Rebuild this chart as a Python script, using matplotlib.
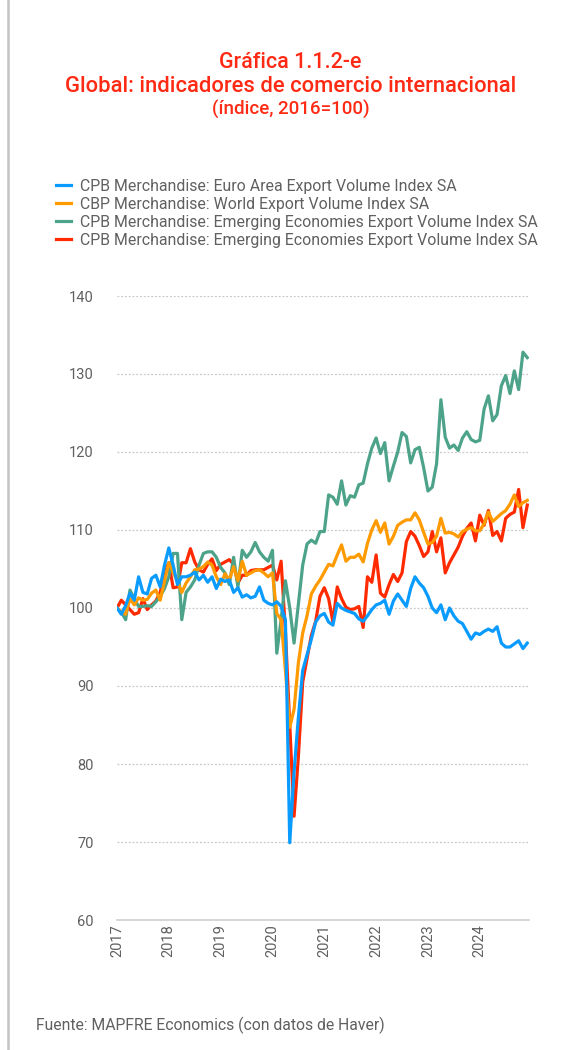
import numpy as np
import matplotlib
matplotlib.use("Agg")
import matplotlib.pyplot as plt
from matplotlib.lines import Line2D

plt.rcParams['font.family'] = ['Roboto', 'DejaVu Sans']

# Monthly data, Jan 2017 - Dec 2024 (index, 2016=100)
years = ['2017', '2018', '2019', '2020', '2021', '2022', '2023', '2024']

euro_area = [100.0, 99.2, 100.3, 101.9, 101.0, 104.0, 102.0, 101.8, 103.8, 104.2, 102.7, 105.5,
             107.7, 105.5, 103.0, 104.0, 104.0, 104.2, 104.6, 103.6, 104.2, 103.3, 104.0, 102.5,
             103.7, 103.4, 103.6, 102.0, 102.6, 101.4, 101.7, 101.3, 101.5, 102.7, 101.0, 100.6,
             100.4, 100.8, 100.2, 98.5, 69.9, 79.0, 86.0, 92.0, 94.0, 96.0, 98.2, 99.0,
             99.3, 98.2, 97.8, 100.6, 100.0, 99.7, 99.5, 99.3, 98.6, 98.3, 99.0, 99.8,
             100.4, 100.6, 101.0, 99.2, 100.9, 101.8, 101.0, 100.2, 102.5, 104.0, 103.2, 102.6,
             101.5, 100.0, 99.4, 100.4, 98.5, 100.0, 99.0, 98.3, 98.0, 97.0, 96.0, 96.8,
             96.6, 97.0, 97.3, 97.0, 97.6, 95.5, 95.0, 95.0, 95.4, 95.8, 94.8, 95.5]

world = [100.0, 99.5, 99.2, 101.2, 100.4, 101.3, 101.0, 101.1, 101.9, 102.3, 101.0, 103.5,
         105.8, 104.6, 103.4, 102.0, 103.2, 104.0, 104.9, 105.0, 105.3, 105.9, 105.5, 104.0,
         103.0, 104.4, 103.6, 105.3, 103.5, 106.0, 104.2, 104.5, 104.8, 104.9, 104.5, 104.0,
         104.5, 99.3, 98.5, 92.0, 84.7, 87.0, 93.0, 96.8, 99.0, 101.8, 102.8, 103.6,
         104.6, 105.6, 105.4, 106.8, 108.1, 106.0, 106.5, 106.5, 106.9, 105.9, 108.3, 110.0,
         111.2, 109.7, 110.9, 108.2, 109.2, 110.6, 111.0, 111.3, 111.3, 112.2, 111.3, 109.7,
         108.2, 108.4, 109.2, 111.5, 109.6, 109.7, 109.5, 109.1, 109.8, 110.1, 110.3, 109.9,
         109.9, 110.8, 112.3, 111.1, 111.6, 112.1, 112.5, 113.3, 114.5, 113.0, 113.5, 113.8]

emerging = [100.0, 99.5, 98.5, 102.3, 101.2, 100.2, 100.2, 100.3, 100.2, 100.8, 101.5, 102.5,
            104.0, 107.0, 107.0, 98.5, 102.0, 102.7, 103.6, 105.5, 107.0, 107.2, 107.2, 106.5,
            105.2, 104.5, 103.0, 106.5, 102.7, 107.4, 106.5, 107.2, 108.4, 107.2, 106.5, 106.0,
            107.4, 94.2, 98.5, 103.5, 100.0, 95.5, 100.5, 105.5, 108.2, 108.7, 108.3, 109.8,
            109.8, 114.5, 114.2, 113.3, 116.3, 113.2, 114.4, 114.2, 115.8, 116.0, 118.5, 120.5,
            121.8, 119.8, 121.2, 116.3, 118.2, 120.0, 122.5, 122.0, 118.6, 120.3, 120.6, 118.0,
            115.0, 115.5, 118.5, 126.7, 121.9, 120.5, 120.9, 120.2, 121.8, 122.6, 121.6, 121.3,
            121.5, 125.5, 127.2, 124.0, 124.8, 128.5, 129.8, 127.5, 130.4, 128.0, 132.8, 132.1]

emerging_2 = [100.0, 101.0, 100.4, 99.8, 99.2, 99.4, 101.2, 99.8, 100.4, 100.9, 102.0, 104.5,
              105.8, 102.6, 102.7, 105.8, 105.8, 107.6, 105.9, 104.9, 104.6, 105.6, 106.3, 104.8,
              105.6, 105.9, 106.2, 105.6, 103.2, 104.2, 104.2, 104.8, 104.9, 104.9, 104.9, 105.2,
              105.5, 103.6, 106.0, 97.0, 85.0, 73.3, 81.0, 90.5, 93.5, 96.5, 98.3, 101.5,
              102.6, 101.2, 98.2, 102.7, 101.2, 100.1, 99.8, 99.9, 100.2, 97.5, 104.0, 103.3,
              106.8, 101.9, 101.4, 103.0, 104.3, 103.4, 104.5, 108.5, 109.8, 109.2, 108.0, 106.6,
              107.2, 109.8, 107.2, 109.0, 104.5, 105.8, 106.8, 107.8, 109.2, 110.2, 110.9, 108.6,
              111.9, 110.6, 112.5, 109.3, 109.8, 108.6, 111.5, 112.0, 112.3, 115.2, 110.3, 113.2]

labels = ['CPB Merchandise: Euro Area Export Volume Index SA',
          'CBP Merchandise: World Export Volume Index SA',
          'CPB Merchandise: Emerging Economies Export Volume Index SA',
          'CPB Merchandise: Emerging Economies Export Volume Index SA']

c_blue, c_orange, c_green, c_red = '#0A9BFF', '#FF9A00', '#4DA389', '#FF2A00'
grey = '#606060'
x = np.arange(len(euro_area))

fig = plt.figure(figsize=(5.81, 10.5), dpi=100)
ax = fig.add_axes([117 / 581, 1 - 920 / 1050, 412 / 581, 624 / 1050])

lw = 2.3
l4, = ax.plot(x, emerging_2, color=c_red, lw=lw, label=labels[3])
l3, = ax.plot(x, emerging, color=c_green, lw=lw, label=labels[2])
l2, = ax.plot(x, world, color=c_orange, lw=lw, label=labels[1])
l1, = ax.plot(x, euro_area, color=c_blue, lw=lw, label=labels[0])

ax.set_xlim(0, 95.4)
ax.set_ylim(60, 140)
ax.set_yticks(range(60, 141, 10))
ax.set_xticks(range(0, 96, 12))
ax.set_xticklabels(years, rotation=90)
ax.tick_params(axis='y', length=0, pad=17, labelsize=10.5, labelcolor=grey)
ax.tick_params(axis='x', length=0, pad=3, labelsize=10.5, labelcolor=grey)
ax.grid(axis='y', color='#c8c8c8', linestyle=(0, (1.5, 1.5)), linewidth=0.9)
ax.set_axisbelow(True)
for s in ['top', 'right', 'left']:
    ax.spines[s].set_visible(False)
ax.spines['bottom'].set_color('#d0d0d0')
ax.spines['bottom'].set_linewidth(1.2)

# title
red = '#FF2A14'
fig.text(0.5, 1 - 62 / 1050, 'Gráfica 1.1.2-e', ha='center', va='center',
         color=red, fontsize=15.5, fontweight='medium')
fig.text(0.5, 1 - 86 / 1050, 'Global: indicadores de comercio internacional',
         ha='center', va='center', color=red, fontsize=15.8, fontweight='medium')
fig.text(0.5, 1 - 109 / 1050, '(índice, 2016=100)', ha='center', va='center',
         color=red, fontsize=13.5, fontweight='medium')

leg = fig.legend(handles=[l1, l2, l3, l4], loc='upper left',
                 bbox_to_anchor=(56 / 581, 1 - 179 / 1050), frameon=False,
                 fontsize=11.4, handlelength=0.95, handletextpad=0.57,
                 labelspacing=0.19, borderaxespad=0, borderpad=0)
for t in leg.get_texts():
    t.set_color(grey)

fig.text(36 / 581, 1 - 1025 / 1050, 'Fuente: MAPFRE Economics (con datos de Haver)',
         ha='left', va='center', color=grey, fontsize=11.3)

fig.add_artist(Line2D([7.5 / 581, 7.5 / 581], [0, 1], transform=fig.transFigure,
                      color='#c4c4c4', lw=1.8))

plt.savefig('out.png', dpi=100)
plt.close()
